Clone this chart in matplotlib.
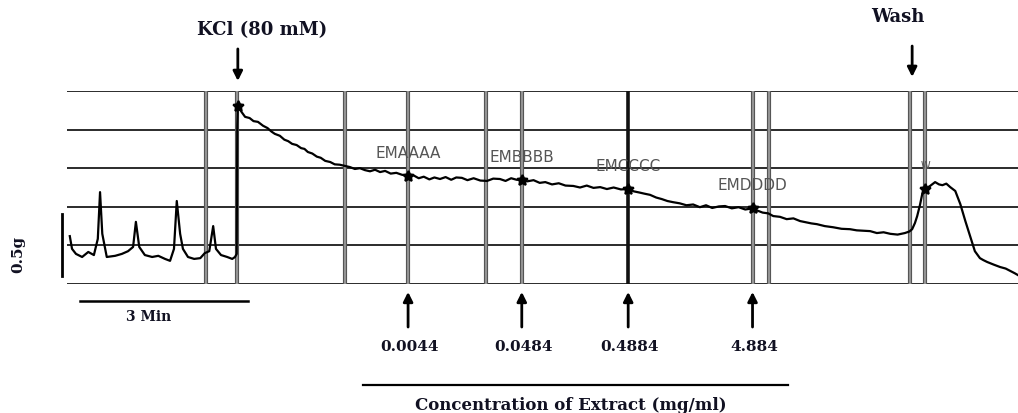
import matplotlib
matplotlib.use("Agg")
from matplotlib import pyplot as plt

# Trace of tension (grid divisions) against time (min).
time_min = [
    0.05, 0.09, 0.16, 0.27, 0.38, 0.48, 0.55, 0.59, 0.63, 0.71, 0.86, 0.98,
    1.09, 1.18, 1.23, 1.29, 1.39, 1.52, 1.63, 1.75, 1.84, 1.91, 1.96, 2.02,
    2.07, 2.16, 2.27, 2.38, 2.46, 2.54, 2.61, 2.66, 2.75, 2.86, 2.95, 3.00,
    3.03, 3.04,
    3.05, 3.12, 3.18, 3.26, 3.33, 3.41, 3.50, 3.58, 3.65, 3.71, 3.80, 3.88,
    3.95, 4.02, 4.10, 4.18, 4.24, 4.30, 4.38, 4.46, 4.53, 4.61, 4.70, 4.78,
    4.87, 4.96, 5.05, 5.14, 5.23, 5.32, 5.41, 5.50, 5.59, 5.68, 5.78, 5.88,
    5.98, 6.09, 6.18, 6.28, 6.37, 6.47, 6.56, 6.66, 6.76, 6.86, 6.95, 7.05,
    7.15, 7.26, 7.38, 7.50, 7.61, 7.73, 7.83, 7.93, 8.03, 8.12, 8.22, 8.33,
    8.44, 8.54, 8.66, 8.78, 8.90, 9.04, 9.16, 9.28, 9.40, 9.52, 9.64, 9.76,
    9.89, 10.02, 10.12, 10.22, 10.31, 10.41, 10.52, 10.62, 10.72, 10.82,
    10.94, 11.06, 11.18, 11.30, 11.41, 11.52, 11.64, 11.75, 11.87, 11.99,
    12.11, 12.24, 12.33, 12.42, 12.52, 12.61, 12.73, 12.85, 12.97, 13.09,
    13.19, 13.29, 13.39, 13.53, 13.68, 13.83, 13.98, 14.10, 14.22, 14.34,
    14.46, 14.58, 14.70, 14.83, 14.96, 15.04, 15.09, 15.14, 15.18, 15.23,
    15.27, 15.32, 15.41, 15.50, 15.57, 15.63, 15.70, 15.77, 15.86, 15.95,
    16.04, 16.13, 16.21, 16.30, 16.36, 16.43, 16.55, 16.66, 16.76, 16.84,
    16.92, 16.98,
]
tension = [
    1.24, 0.91, 0.78, 0.70, 0.83, 0.75, 1.17, 2.38, 1.30, 0.70, 0.73, 0.78,
    0.85, 0.96, 1.61, 0.96, 0.75, 0.70, 0.73, 0.65, 0.60, 0.91, 2.15, 1.30,
    0.91, 0.70, 0.65, 0.67, 0.80, 0.85, 1.50, 0.91, 0.75, 0.70, 0.65, 0.70,
    0.78, 4.09,
    4.61, 4.45, 4.33, 4.30, 4.22, 4.20, 4.10, 4.04, 3.95, 3.89, 3.84, 3.74,
    3.70, 3.63, 3.60, 3.52, 3.50, 3.42, 3.38, 3.30, 3.27, 3.19, 3.16, 3.10,
    3.09, 3.06, 3.03, 2.98, 3.00, 2.95, 2.92, 2.96, 2.90, 2.93, 2.86, 2.88,
    2.83, 2.80, 2.82, 2.74, 2.78, 2.71, 2.76, 2.72, 2.77, 2.70, 2.76, 2.75,
    2.69, 2.74, 2.68, 2.67, 2.73, 2.72, 2.67, 2.74, 2.70, 2.70, 2.66, 2.69,
    2.62, 2.64, 2.58, 2.61, 2.55, 2.54, 2.50, 2.55, 2.49, 2.51, 2.46, 2.50,
    2.45, 2.46, 2.40, 2.37, 2.34, 2.31, 2.24, 2.20, 2.15, 2.12,
    2.09, 2.04, 2.06, 1.99, 2.04, 1.97, 2.01, 2.02, 1.96, 1.99,
    1.93, 1.96, 1.90, 1.85, 1.83, 1.76, 1.74, 1.68, 1.70, 1.63,
    1.60, 1.57, 1.55, 1.50, 1.47, 1.43, 1.42, 1.39, 1.38, 1.37,
    1.32, 1.34, 1.30, 1.28, 1.32, 1.36, 1.42, 1.58, 1.76, 2.05,
    2.33, 2.46, 2.54, 2.64, 2.58, 2.56, 2.60, 2.51, 2.41, 2.07,
    1.63, 1.22, 0.85, 0.67, 0.62, 0.57, 0.50, 0.44, 0.40, 0.34,
    0.28, 0.23,
]

# Event markers on the trace
event_time = [3.05, 6.09, 8.12, 10.02, 12.24, 15.32]
event_tension = [4.61, 2.80, 2.70, 2.46, 1.96, 2.46]
event_labels = ["", "EMAAAA", "EMBBBB", "EMCCCC", "EMDDDD", "W"]

# Doses of extract
dose_time = [6.09, 8.12, 10.02, 12.24]
dose_labels = ["0.0044", "0.0484", "0.4884", "4.884"]

# Chart paper vertical lines (min)
paper_lines = [2.48, 3.04, 4.96, 6.09, 7.49, 8.12, 10.02, 12.24, 12.54, 15.06, 15.32]

serif = "DejaVu Serif"
ink = "#111122"

fig = plt.figure(figsize=(10.18, 4.14), dpi=100)
ax = fig.add_axes([67 / 1018, 129 / 414, 951 / 1018, 193 / 414])
ax.set_xlim(0, 16.98)
ax.set_ylim(0, 5)
ax.axis("off")

# Chart paper
for y in range(6):
    ax.axhline(y, color="#2b2b2b", lw=1.4, zorder=1)
for x in paper_lines:
    if x == 10.02:
        ax.axvline(x, color="#111111", lw=2.6, zorder=1)
    else:
        ax.axvline(x, color="#555555", lw=3.0, zorder=1)
        ax.axvline(x, color="#9a9a9a", lw=1.3, zorder=1)

# Trace
ax.plot(time_min, tension, color="black", lw=1.6, zorder=3)
ax.plot(event_time, event_tension, ls="none", marker=(5, 1, 0), ms=8,
        color="black", mew=1.4, zorder=4)

for x, y, lab in zip(event_time, event_tension, event_labels):
    if lab == "":
        continue
    fs = 7 if lab == "W" else 11
    ax.annotate(lab, (x, y), xytext=(0, 17), textcoords="offset points",
                ha="center", va="center", fontsize=fs, color="#555555",
                family="DejaVu Sans")

xt = ax.get_xaxis_transform()
arrow = dict(arrowstyle="-|>", color="black", lw=2, mutation_scale=14,
             shrinkA=0, shrinkB=0)

# KCl and wash
ax.annotate("", xy=(3.05, 1.052), xycoords=xt, xytext=(3.05, 1.218),
            textcoords=xt, arrowprops=arrow)
ax.text(3.48, 1.321, "KCl (80 mM)", transform=xt, ha="center", va="center",
        fontsize=13, fontweight="bold", family=serif, color=ink)
ax.annotate("", xy=(15.09, 1.073), xycoords=xt, xytext=(15.09, 1.233),
            textcoords=xt, arrowprops=arrow)
ax.text(14.84, 1.389, "Wash", transform=xt, ha="center", va="center",
        fontsize=13, fontweight="bold", family=serif, color=ink)

# Dose arrows
for x, lab in zip(dose_time, dose_labels):
    ax.annotate("", xy=(x, -0.041), xycoords=xt, xytext=(x, -0.223),
                textcoords=xt, arrowprops=arrow)
    ax.text(x + 0.03, -0.321, lab, transform=xt, ha="center", va="center",
            fontsize=11, fontweight="bold", family=serif, color=ink)

ax.plot([5.29, 12.88], [-0.523, -0.523], transform=xt, color="black", lw=1.6,
        clip_on=False)
ax.text(9.0, -0.622, "Concentration of Extract (mg/ml)", transform=xt,
        ha="center", va="center", fontsize=12, fontweight="bold",
        family=serif, color=ink)

# Scale bars
ax.plot([0.23, 3.23], [-0.088, -0.088], transform=xt, color="black", lw=1.8,
        clip_on=False)
ax.text(1.45, -0.166, "3 Min", transform=xt, ha="center", va="center",
        fontsize=10, fontweight="bold", family=serif, color=ink)
ax.plot([-0.09, -0.09], [0.21, 1.81], color="black", lw=2, clip_on=False)
ax.text(-0.87, 0.78, "0.5g", rotation=90, ha="center", va="center",
        fontsize=11, fontweight="bold", family=serif, color=ink)

fig.savefig("out.png", dpi=100)
